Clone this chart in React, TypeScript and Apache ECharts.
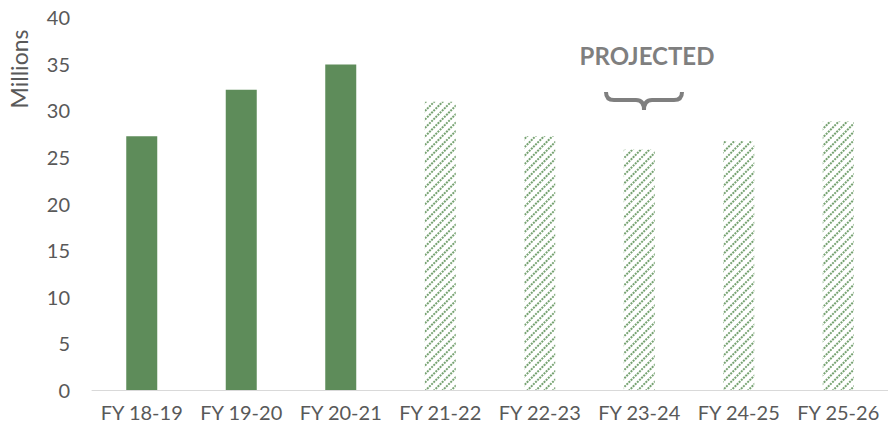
import React, { useEffect, useRef } from "react";
import * as echarts from "echarts";

const categories = ["FY 18-19", "FY 19-20", "FY 20-21", "FY 21-22", "FY 22-23", "FY 23-24", "FY 24-25", "FY 25-26"];
const actualValues = [27.2, 32.2, 34.9, null, null, null, null, null];
const projectedValues = [null, null, null, 30.9, 27.2, 25.8, 26.7, 28.8];
const yTicks = [0, 5, 10, 15, 20, 25, 30, 35, 40];

const GREEN = "#5E8C5A";
const TEXT = "#595959";
const FONT = "Lato, 'Open Sans', sans-serif";

echarts.graphic.registerShape(
  "brace",
  echarts.graphic.extendPath(
    "M2,0 Q2,8 10,8 L32,8 Q40,8 40,18 Q40,8 48,8 L70,8 Q78,8 78,0",
    {}
  )
);

export default function App() {
  const ref = useRef<HTMLDivElement>(null);
  useEffect(() => {
    const chart = echarts.init(ref.current!, null, { renderer: "svg" });
    chart.setOption({
      animation: false,
      grid: { left: 92, right: -9, top: 17, bottom: 45, containLabel: false },
      xAxis: {
        type: "category",
        data: categories,
        axisLine: { show: true, lineStyle: { color: "#D9D9D9", width: 1 } },
        axisTick: { show: false },
        axisLabel: { color: TEXT, fontSize: 20, fontFamily: FONT, margin: 12, interval: 0 },
      },
      yAxis: {
        type: "value",
        min: yTicks[0],
        max: yTicks[yTicks.length - 1],
        interval: 5,
        splitLine: { show: false },
        axisLine: { show: false },
        axisTick: { show: false },
        axisLabel: { color: TEXT, fontSize: 20, fontFamily: FONT, margin: 22 },
      },
      series: [
        {
          type: "bar",
          data: actualValues,
          barWidth: 31,
          barGap: "-100%",
          itemStyle: { color: GREEN },
        },
        {
          type: "bar",
          data: projectedValues,
          barWidth: 31,
          barGap: "-100%",
          itemStyle: {
            color: "#FFFFFF",
            decal: {
              symbol: "rect",
              symbolSize: 1,
              color: "#76A271",
              dashArrayX: [[2, 1]],
              dashArrayY: [1.5, 4],
              rotation: -Math.PI / 4,
            },
          },
        },
      ],
      graphic: [
        {
          type: "text",
          x: 19,
          y: 69,
          rotation: Math.PI / 2,
          style: {
            text: "Millions",
            fill: TEXT,
            font: `23px ${FONT}`,
            align: "center",
            verticalAlign: "middle",
          },
        },
        {
          type: "text",
          x: 647,
          y: 55,
          style: {
            text: "PROJECTED",
            fill: "#7F7F7F",
            font: `bold 24px ${FONT}`,
            align: "center",
            verticalAlign: "middle",
          },
        },
        {
          type: "brace",
          x: 604,
          y: 92,
          style: { stroke: "#7F7F7F", lineWidth: 4, fill: null },
        },
      ],
    });
    return () => chart.dispose();
  }, []);
  return <div ref={ref} style={{ width: 888, height: 435, position: "absolute", left: 0, top: 0 }} />;
}
